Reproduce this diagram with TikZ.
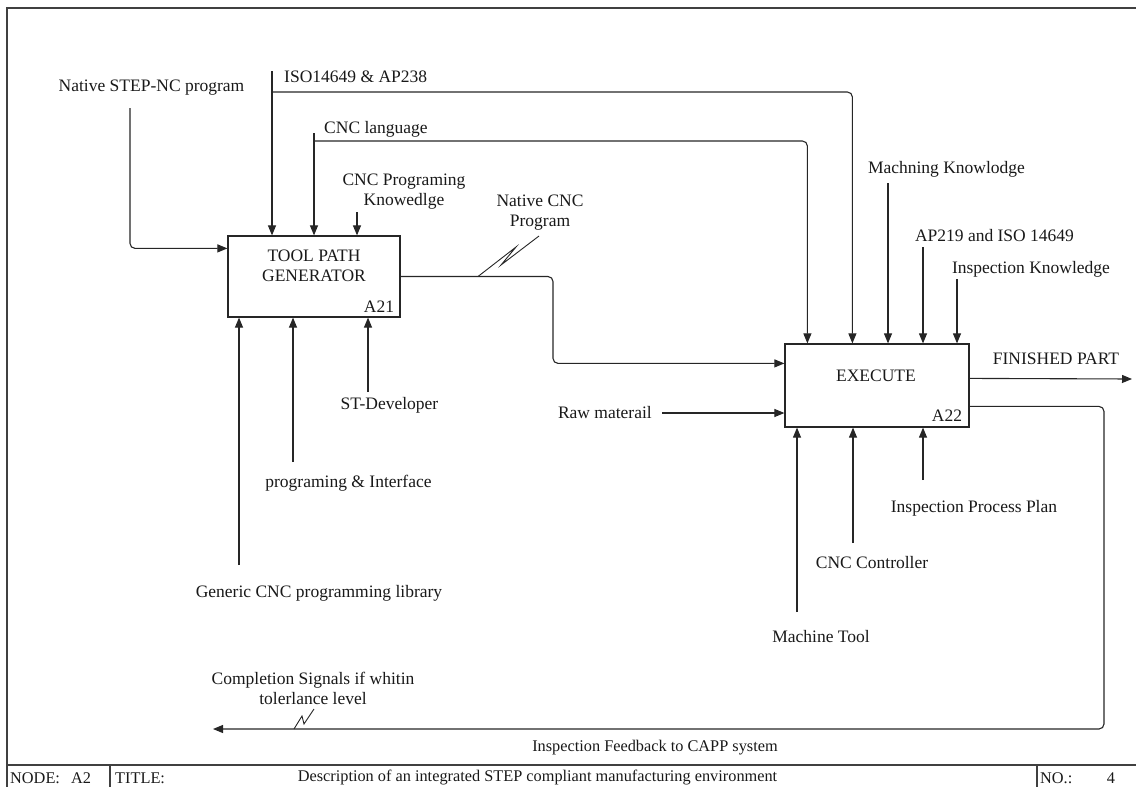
\documentclass[tikz,border=0pt]{standalone}
\usepackage{fontspec}
\setmainfont{Liberation Serif}
\usetikzlibrary{arrows.meta,calc}
\begin{document}
\begin{tikzpicture}[x=1pt,y=-1pt,
  every node/.style={font=\fontsize{17.5}{20}\selectfont, inner sep=0pt, text=black!90},
  box/.style={draw=black!85, line width=1.2pt, inner sep=0pt},
  wire/.style={draw=black!85, line width=1.1pt, rounded corners=5pt},
  arr/.style={wire, -{Triangle[length=10pt,width=8pt]}},
  leader/.style={draw=black!85, line width=0.9pt},
  lbl/.style={align=center},
  frame/.style={draw=black!75, line width=1.5pt},
  small/.style={font=\fontsize{16.3}{18}\selectfont}]
\useasboundingbox (0,0) rectangle (1136,787);

% sheet frame and title row
\coordinate (fTL) at (7,8);
\coordinate (fTR) at (1136,8);
\coordinate (fBL) at (7,787);
\coordinate (rowL) at (7,765);
\coordinate (rowR) at (1136,765);
\coordinate (divA) at (110,765);
\coordinate (divB) at (1037,765);
\draw[frame] (fTR) -- (fTL) -- (fBL);
\draw[frame] (rowL) -- (rowR);
\draw[frame] (divA) -- (divA |- fBL);
\draw[frame] (divB) -- (divB |- fBL);
\node[small, anchor=west] (nodekey) at (10,778) {NODE:};
\node[small, anchor=west] (nodeid) at (71,778) {A2};
\node[small, anchor=west] (titlekey) at (115,778) {TITLE:};
\node[small] (title) at (537.5,778) {Description of an integrated STEP compliant manufacturing environment};
\node[small, anchor=west] (nokey) at (1040,778) {NO.:};
\node[small] (noval) at (1111,778) {4};

% activity boxes
\node[box, minimum width=172pt, minimum height=81pt] (tpg) at (314,276.5) {};
\node[lbl] (tpgtext) at (314,266) {TOOL PATH\\GENERATOR};
\node (tpgid) at (379,307) {A21};
\node[box, minimum width=184pt, minimum height=83pt] (exe) at (877,385.5) {};
\node (exetext) at (876,376) {EXECUTE};
\node (exeid) at (947,416) {A22};

% inputs of A21
\node (nsl) at (151.5,88) {Native STEP-NC program};
\coordinate (nsStart) at (130,108);
\draw[arr] (nsStart) |- ($(tpg.north west)+(0,13)$);

\node[anchor=west] (isol) at (284,77) {ISO14649 \& AP238};
\coordinate (isoStart) at (272,71);
\coordinate (isoBr) at (272,92);
\draw[arr] (isoStart) -- (isoStart |- tpg.north);
\draw[arr] (isoBr) -| ($(exe.north west)+(68,0)$);

\node[anchor=west] (cncl) at (324,129) {CNC language};
\coordinate (cncStart) at (314,133);
\coordinate (cncBr) at (314,141);
\draw[arr] (cncStart) -- (cncStart |- tpg.north);
\draw[arr] (cncBr) -| ($(exe.north west)+(23,0)$);

\node[lbl] (kn) at (404,192) {CNC Programing\\Knowedlge};
\coordinate (knStart) at (357,212);
\draw[arr] (knStart) -- (knStart |- tpg.north);

% mechanisms of A21
\node (gen) at (319,593) {Generic CNC programming library};
\coordinate (genStart) at (239,565);
\draw[arr] (genStart) -- (genStart |- tpg.south);
\node (pi) at (348.5,483) {programing \& Interface};
\coordinate (piStart) at (293,462);
\draw[arr] (piStart) -- (piStart |- tpg.south);
\node (std) at (389.5,405) {ST-Developer};
\coordinate (stdStart) at (368,392);
\draw[arr] (stdStart) -- (stdStart |- tpg.south);

% output of A21 into A22
\coordinate (ncTurn) at (553,320);
\draw[arr] (tpg.east) -| (ncTurn) |- ($(exe.north west)+(0,20)$);
\node[lbl] (ncl) at (540,213) {Native CNC\\Program};
\coordinate (ncLeadA) at (478,276.5);
\coordinate (ncLeadB) at (539,236);
\draw[leader] (ncLeadA) -- (516,247) -- (501,265) -- (ncLeadB);

% controls of A22
\node (mk) at (946.5,169) {Machning Knowlodge};
\coordinate (mkStart) at (888,183);
\draw[arr] (mkStart) -- (mkStart |- exe.north);
\node (ap) at (994.5,236) {AP219 and ISO 14649};
\coordinate (apStart) at (923,247);
\draw[arr] (apStart) -- (apStart |- exe.north);
\node (ik) at (1031,269) {Inspection Knowledge};
\coordinate (ikStart) at (957,279);
\draw[arr] (ikStart) -- (ikStart |- exe.north);

% input and mechanisms of A22
\node[anchor=east] (raw) at (652,413) {Raw materail};
\coordinate (rawStart) at (662,413);
\draw[arr] (rawStart) -- (rawStart -| exe.west);
\node (mt) at (821,637) {Machine Tool};
\coordinate (mtStart) at (797,612);
\draw[arr] (mtStart) -- (mtStart |- exe.south);
\node (cc) at (872,563) {CNC Controller};
\coordinate (ccStart) at (853,543);
\draw[arr] (ccStart) -- (ccStart |- exe.south);
\node (ipp) at (974,508) {Inspection Process Plan};
\coordinate (ippStart) at (923,480);
\draw[arr] (ippStart) -- (ippStart |- exe.south);

% outputs of A22
\node (fp) at (1056,359) {FINISHED PART};
\coordinate (fpEnd) at (1132,379);
\draw[arr] ($(exe.north east)+(0,35)$) -- (fpEnd);
\coordinate (fbTurn) at (1104,729);
\coordinate (fbEnd) at (213,729);
\draw[arr] ($(exe.north east)+(0,63)$) -| (fbTurn) -- (fbEnd);
\node[small] (fbl) at (655,748) {Inspection Feedback to CAPP system};
\node[lbl] (csl) at (313,688) {Completion Signals if whitin\\tolerlance level};
\coordinate (csLeadA) at (294,729);
\coordinate (csLeadB) at (314,709);
\draw[leader] (csLeadA) -- (302,716) -- (304,724) -- (csLeadB);
\end{tikzpicture}
\end{document}
